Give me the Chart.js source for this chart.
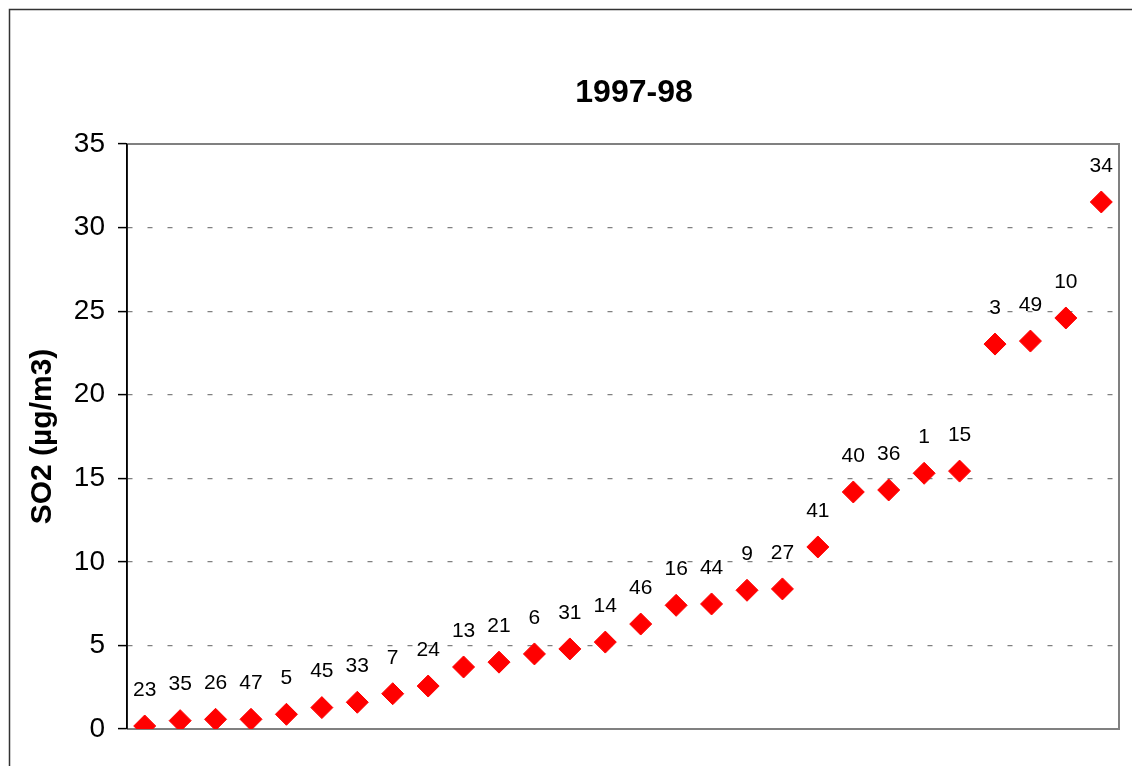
<!DOCTYPE html>
<html>
<head>
<meta charset="utf-8">
<title>1997-98 SO2</title>
<script src="https://cdn.jsdelivr.net/npm/chart.js@4"></script>
<style>
  body { margin: 0; background: #fff; }
  canvas { display: block; }
</style>
</head>
<body>
<canvas id="so2" width="1132" height="766"></canvas>
<script>
// station numbers, sorted by concentration
const stations = ['23', '35', '26', '47', '5', '45', '33', '7', '24', '13', '21', '6', '31', '14',
                  '46', '16', '44', '9', '27', '41', '40', '36', '1', '15', '3', '49', '10', '34'];
// SO2 annual mean, ug/m3
const so2Values = [0.18, 0.5, 0.58, 0.58, 0.88, 1.28, 1.6, 2.11, 2.57, 3.71, 4.0, 4.49, 4.79, 5.2,
                   6.28, 7.4, 7.48, 8.3, 8.38, 10.89, 14.18, 14.3, 15.3, 15.43, 23.03, 23.21, 24.59, 31.53];
const yTicks = [0, 5, 10, 15, 20, 25, 30, 35];
const chartTitle = '1997-98';
const yTitle = 'SO2 (\u00b5g/m3)';

const FONT = '"Liberation Sans", Arial, sans-serif';
Chart.defaults.font.family = FONT;
Chart.defaults.color = '#000';

// outer frame, plot frame and the title
const framePlugin = {
    id: 'frames',
    beforeDraw(chart) {
        const ctx = chart.ctx;
        ctx.save();
        ctx.fillStyle = '#fff';
        ctx.fillRect(0, 0, chart.width, chart.height);
        ctx.strokeStyle = '#333';
        ctx.lineWidth = 1.5;
        ctx.beginPath();
        ctx.moveTo(9.5, chart.height);
        ctx.lineTo(9.5, 9.5);
        ctx.lineTo(chart.width, 9.5);
        ctx.stroke();
        ctx.restore();
    },
    beforeDatasetsDraw(chart) {
        const { ctx, chartArea: a } = chart;
        ctx.save();
        ctx.strokeStyle = '#808080';
        ctx.lineWidth = 2;
        ctx.beginPath();
        ctx.moveTo(a.left, a.top);
        ctx.lineTo(a.right, a.top);
        ctx.lineTo(a.right, a.bottom);
        ctx.lineTo(a.left, a.bottom);
        ctx.stroke();
        // left axis on top of the frame
        ctx.strokeStyle = '#000';
        ctx.lineWidth = 1.5;
        ctx.beginPath();
        ctx.moveTo(a.left, a.top);
        ctx.lineTo(a.left, a.bottom);
        ctx.stroke();
        ctx.restore();
    },
    afterDraw(chart) {
        const ctx = chart.ctx;
        ctx.save();
        ctx.font = 'bold 32px ' + FONT;
        ctx.fillStyle = '#000';
        ctx.textAlign = 'center';
        ctx.textBaseline = 'middle';
        ctx.fillText(chartTitle, 634, 93);
        ctx.restore();
    }
};

// station number above each point
const stationLabels = {
    id: 'stationLabels',
    afterDatasetsDraw(chart) {
        const ctx = chart.ctx;
        const meta = chart.getDatasetMeta(0);
        ctx.save();
        ctx.font = '21px ' + FONT;
        ctx.fillStyle = '#000';
        ctx.textAlign = 'center';
        ctx.textBaseline = 'middle';
        meta.data.forEach((pt, i) => {
            ctx.fillText(stations[i], pt.x, pt.y - 36);
        });
        ctx.restore();
    }
};

new Chart(document.getElementById('so2'), {
    type: 'line',
    data: {
        labels: stations,
        datasets: [{
            data: so2Values,
            showLine: false,
            pointStyle: 'rectRot',
            pointRadius: 11,
            pointHoverRadius: 11,
            pointBorderWidth: 1,
            pointBackgroundColor: '#ff0000',
            pointBorderColor: '#ff0000'
        }]
    },
    options: {
        responsive: false,
        animation: false,
        events: [],
        layout: { padding: { left: 0, top: 144, right: 13, bottom: 37 } },
        plugins: {
            legend: { display: false },
            title: { display: false },
            tooltip: { enabled: false }
        },
        scales: {
            x: {
                type: 'category',
                offset: true,
                display: false
            },
            y: {
                min: 0,
                max: 35,
                afterFit(scale) { scale.width = 127; },
                afterBuildTicks(scale) { scale.ticks = yTicks.map(v => ({ value: v })); },
                ticks: {
                    font: { size: 28 },
                    padding: 13,
                    color: '#000'
                },
                grid: {
                    color: '#808080',
                    lineWidth: 1.2,
                    tickLength: 9,
                    tickColor: '#000',
                    tickWidth: 1.5,
                    tickBorderDash: []
                },
                border: {
                    display: true,
                    color: '#000',
                    width: 1.5,
                    dash: [5, 15]
                },
                title: {
                    display: true,
                    text: yTitle,
                    font: { size: 30, weight: 'bold' },
                    padding: { top: 25, bottom: 0 }
                }
            }
        }
    },
    plugins: [framePlugin, stationLabels]
});
</script>
</body>
</html>
